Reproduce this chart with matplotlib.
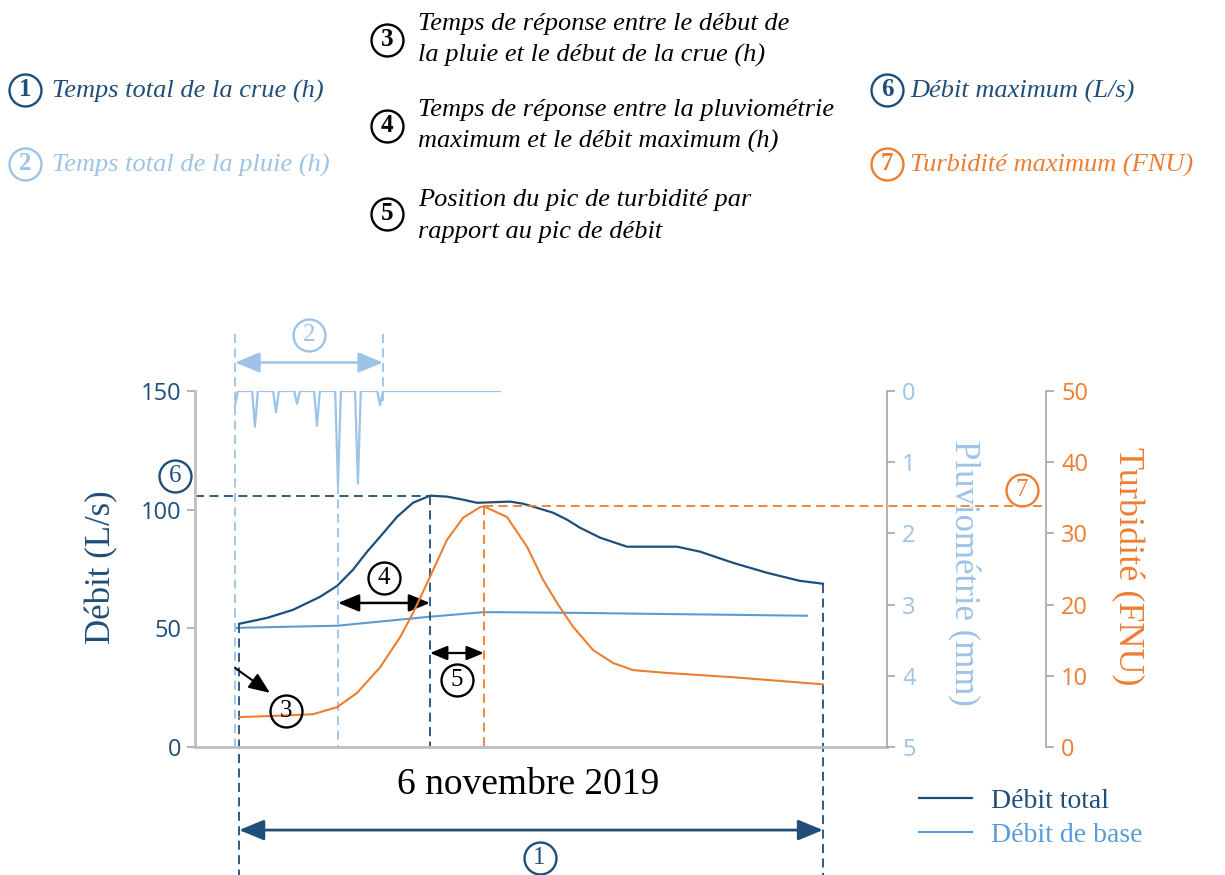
import numpy as np
import matplotlib
matplotlib.use('Agg')
import matplotlib.pyplot as plt
from matplotlib.lines import Line2D

# --- donnees (temps en heures) ---
t_total = [1.53, 2.50, 3.40, 4.34, 4.93, 5.48, 5.97, 6.42, 7.01, 7.56, 8.15, 8.74, 9.30, 9.78,
           10.48, 10.93, 11.38, 11.72, 12.42, 12.90, 13.35, 14.05, 14.98, 16.72, 17.52, 18.66,
           19.84, 20.98, 21.78]
q_total = [51.9, 54.4, 57.8, 63.3, 67.9, 74.7, 82.3, 88.6, 97.0, 102.9, 105.9, 105.5, 104.2, 102.9,
           103.2, 103.4, 102.5, 101.3, 98.7, 95.8, 92.4, 88.2, 84.4, 84.4, 82.3, 77.6,
           73.4, 70.0, 68.8]

t_base = [1.42, 4.93, 8.15, 9.99, 10.58, 13.35, 15.89, 18.66, 21.23]
q_base = [50.2, 51.1, 54.9, 56.8, 56.8, 56.5, 56.1, 55.7, 55.3]

t_turb = [1.53, 2.60, 4.09, 4.93, 5.62, 6.42, 7.11, 7.56, 8.15, 8.74, 9.30, 9.89, 10.02, 10.82,
          11.52, 12.07, 12.56, 13.11, 13.81, 14.50, 15.19, 16.37, 18.66, 21.78]
turb = [4.2, 4.35, 4.6, 5.6, 7.6, 11.2, 15.4, 18.8, 23.9, 29.1, 32.2, 33.7, 33.8, 32.3,
        28.1, 23.5, 20.2, 16.9, 13.6, 11.8, 10.8, 10.4, 9.8, 8.8]

t_pluie = [1.39, 1.49, 1.98, 2.08, 2.18, 2.71, 2.81, 2.91, 3.44, 3.54, 3.64, 4.13, 4.23, 4.33,
           4.86, 4.96, 5.06, 5.55, 5.65, 5.75, 6.32, 6.42, 6.52, 10.58]
pluie = [0.2, 0, 0, 0.5, 0, 0, 0.3, 0, 0, 0.18, 0, 0, 0.49, 0, 0, 1.32, 0, 0, 1.30, 0, 0, 0.2, 0, 0]

left_ticks = [0, 50, 100, 150]
pluvio_ticks = [0, 1, 2, 3, 4, 5]
turb_ticks = [0, 10, 20, 30, 40, 50]

DARK = '#1F4E79'
MID = '#5B9BD5'
LIGHT = '#9DC3E6'
ORANGE = '#ED7D31'
GRAY = '#BFBFBF'
SERIF = 'Liberation Serif'

plt.rcParams['font.family'] = 'Open Sans'

W, H = 1225, 875
def fx(px):
    return px / W
def fy(py):
    return 1 - py / H

fig = plt.figure(figsize=(W / 100, H / 100), dpi=100)
ax = fig.add_axes([fx(195), fy(747), 692 / W, 356 / H])
ax2 = ax.twinx()
ax3 = ax.twinx()

# courbes
l_total, = ax.plot(t_total, q_total, color=DARK, lw=1.6, label='Débit total', solid_joinstyle='round')
l_base, = ax.plot(t_base, q_base, color=MID, lw=1.5, label='Débit de base')
ax2.plot(t_pluie, pluie, color=LIGHT, lw=1.6)
ax3.plot(t_turb, turb, color=ORANGE, lw=1.5, solid_joinstyle='round')

ax.set_xlim(0, 24)
ax.set_ylim(0, 150)
ax2.set_ylim(5, 0)
ax3.set_ylim(0, 50)
turb_pos = (1046 - 195) / 692
ax3.spines['right'].set_position(('axes', turb_pos))

for a in (ax, ax2, ax3):
    for s in a.spines.values():
        s.set_visible(False)
ax.spines['left'].set_visible(True)
ax.spines['bottom'].set_visible(True)
ax.spines['left'].set_color(GRAY)
ax.spines['bottom'].set_color(GRAY)
ax.spines['left'].set_linewidth(2)
ax.spines['bottom'].set_linewidth(2)
for a in (ax2, ax3):
    a.spines['right'].set_visible(True)
    a.spines['right'].set_color('#A6A6A6')
    a.spines['right'].set_linewidth(1.2)

ax.set_xticks([])
ax.set_yticks(left_ticks)
ax2.set_yticks(pluvio_ticks)
ax3.set_yticks(turb_ticks)
ax.tick_params(axis='y', length=6, width=1.2, color='#A6A6A6', labelcolor=DARK, labelsize=17, pad=4)
ax2.tick_params(axis='y', length=6, width=1.2, color='#A6A6A6', labelcolor=LIGHT, labelsize=17, pad=5)
ax3.tick_params(axis='y', length=6, width=1.2, color='#A6A6A6', labelcolor=ORANGE, labelsize=17, pad=5)

ax.set_ylabel('Débit (L/s)', family=SERIF, fontsize=25, color=DARK)
ax.yaxis.set_label_coords((102 - 195) / 692, (747 - 567) / 356)
ax.yaxis.label.set_va('center')
ax2.set_ylabel('Pluviométrie (mm)', family=SERIF, fontsize=25, color=LIGHT, rotation=270)
ax2.yaxis.set_label_coords((963 - 195) / 692, (747 - 573) / 356)
ax2.yaxis.label.set_va('center')
ax3.set_ylabel('Turbidité (FNU)', family=SERIF, fontsize=26, color=ORANGE, rotation=270)
ax3.yaxis.set_label_coords((1127 - 195) / 692, (747 - 566) / 356)
ax3.yaxis.label.set_va('center')

# instants caracteristiques
i_q = int(np.argmax(q_total))
t_qmax, qmax = t_total[i_q], q_total[i_q]
i_t = int(np.argmax(turb))
t_tmax, tmax = t_turb[i_t], turb[i_t]
i_p = int(np.argmax(pluie))
t_pmax, pmax = t_pluie[i_p], pluie[i_p]
t_p0, t_p1 = t_pluie[0], t_pluie[-2]
t_c0, t_c1 = t_total[0], t_total[-1]

def pl2q(mm):
    # pluviometrie (axe inverse) -> unites de l'axe gauche
    return 150 - mm * 30

dash = (0, (5, 3))
kw = dict(lw=1.3, ls=dash, clip_on=False)
ax.plot([0, t_qmax], [qmax, qmax], color=DARK, **kw)
ax.plot([t_qmax, t_qmax], [qmax, 0], color=DARK, **kw)
ax.plot([t_c0, t_c0], [q_total[0], -56], color=DARK, **kw)
ax.plot([t_c1, t_c1], [q_total[-1], -56], color=DARK, **kw)
ax.plot([t_p0, t_p0], [174, 0], color=LIGHT, **kw)
ax.plot([t_p1, t_p1], [174, pl2q(0.2)], color=LIGHT, **kw)
ax.plot([t_pmax, t_pmax], [pl2q(pmax), 0], color=LIGHT, **kw)
ax3.plot([t_tmax, t_tmax], [tmax, 0], color=ORANGE, **kw)
ax3.plot([t_tmax, 24 * turb_pos], [tmax, tmax], color=ORANGE, **kw)

def fleche(x0, y0, x1, y1, color, style='<|-|>', lw=1.8, ms=16):
    ax.annotate('', xy=(x1, y1), xytext=(x0, y0), annotation_clip=False,
                arrowprops=dict(arrowstyle=style + ',head_length=0.8,head_width=0.33',
                                mutation_scale=ms, color=color, lw=lw,
                                shrinkA=0, shrinkB=0))

fleche(t_p0, 162, t_p1, 162, LIGHT, ms=19)
fleche(t_pmax, 60.7, t_qmax, 60.7, 'black')
fleche(t_qmax, 39.6, t_tmax, 39.6, 'black', lw=1.6, ms=13)
fleche(1.39, 33.3, 2.60, 22.8, 'black', style='-|>', lw=1.5, ms=16)
fleche(t_c0, -35, t_c1, -35, DARK, lw=2, ms=19)

def rond(x, y, n, color, transform, weight='normal', size=18):
    fig.add_artist(Line2D([x], [y], marker='o', ms=23, mfc='none', mec=color, mew=1.7,
                          transform=transform, clip_on=False))
    fig.text(x, y, n, transform=transform, ha='center', va='center', color=color,
             family=SERIF, fontsize=size, fontweight=weight)

rond(3.96, 173.6, '2', LIGHT, ax.transData)
rond(6.55, 71.2, '4', 'black', ax.transData)
rond(9.09, 28.2, '5', 'black', ax.transData)
rond(3.16, 15.2, '3', 'black', ax.transData)
rond(11.95, -46.8, '1', DARK, ax.transData)
rond(-0.69, 114.2, '6', DARK, ax.transData)
rond(28.68, 36.1, '7', ORANGE, ax3.transData)

ax.text(11.55, -16, '6 novembre 2019', ha='center', va='center', family=SERIF, fontsize=27,
        color='black', clip_on=False)

fig.legend(handles=[l_total, l_base], loc='center left', bbox_to_anchor=(fx(919), fy(818)),
           frameon=False, prop={'family': SERIF, 'size': 20}, labelcolor='linecolor',
           handlelength=1.9, handletextpad=0.7, labelspacing=0.3, borderpad=0, borderaxespad=0)

# textes d'explication en haut
head = dict(family=SERIF, fontstyle='italic', fontsize=19, va='center', ha='left')
rond(fx(25), fy(90), '1', DARK, fig.transFigure, weight='bold')
fig.text(fx(52), fy(91), 'Temps total de la crue (h)', color=DARK, **head)
rond(fx(25), fy(164), '2', LIGHT, fig.transFigure, weight='bold')
fig.text(fx(52), fy(165), 'Temps total de la pluie (h)', color=LIGHT, **head)
rond(fx(387), fy(40), '3', 'black', fig.transFigure, weight='bold')
fig.text(fx(418), fy(40), 'Temps de réponse entre le début de\nla pluie et le début de la crue (h)',
         color='black', linespacing=1.55, **head)
rond(fx(387), fy(126), '4', 'black', fig.transFigure, weight='bold')
fig.text(fx(418), fy(126), 'Temps de réponse entre la pluviométrie\nmaximum et le débit maximum (h)',
         color='black', linespacing=1.55, **head)
rond(fx(387), fy(214), '5', 'black', fig.transFigure, weight='bold')
fig.text(fx(418), fy(216), 'Position du pic de turbidité par\nrapport au pic de débit',
         color='black', linespacing=1.55, **head)
rond(fx(887), fy(90), '6', DARK, fig.transFigure, weight='bold')
fig.text(fx(910), fy(91), 'Débit maximum (L/s)', color=DARK, **head)
rond(fx(887), fy(164), '7', ORANGE, fig.transFigure, weight='bold')
fig.text(fx(910), fy(165), 'Turbidité maximum (FNU)', color=ORANGE, **head)

fig.savefig('out.png', dpi=100)
